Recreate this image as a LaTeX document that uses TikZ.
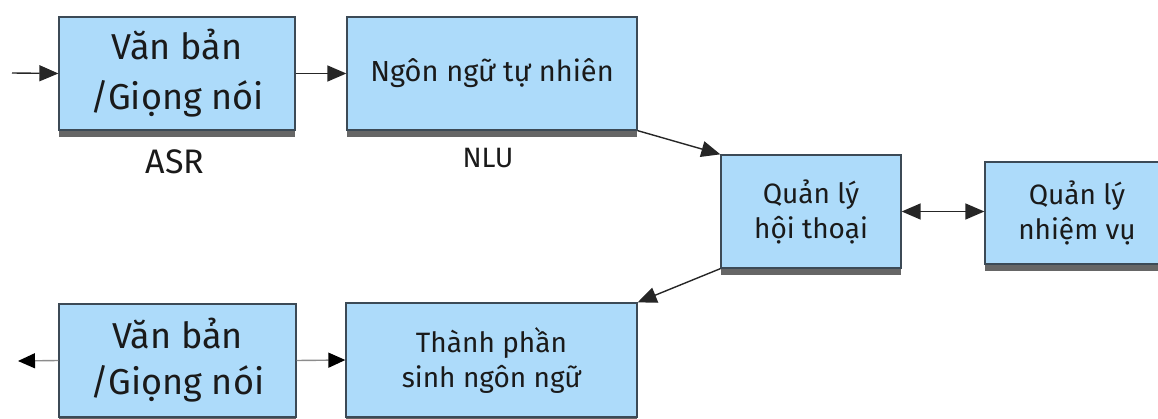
\documentclass[tikz,border=0pt]{standalone}
\usepackage{fontspec}
\setmainfont{Fira Sans}
\usetikzlibrary{arrows.meta,shadows}
\definecolor{boxfill}{HTML}{ADDBFA}
\definecolor{boxline}{HTML}{3C4A56}
\definecolor{txt}{HTML}{1A1A1A}
\tikzset{
  blk/.style={draw=boxline, line width=1.3pt, fill=boxfill, align=center,
    text=txt, inner sep=0pt,
    drop shadow={shadow xshift=0pt, shadow yshift=-7pt, fill=black!75, opacity=0.8}},
  bigtxt/.style={font=\fontsize{36}{50}\selectfont},
  midtxt/.style={font=\fontsize{28}{35}\selectfont},
  lbl/.style={text=txt, inner sep=0pt},
  conn/.style={line width=1.4pt, draw=black!85, -{Triangle[length=19pt,width=16pt]}},
  dconn/.style={line width=1.4pt, draw=black!85, {Triangle[length=19pt,width=16pt]}-{Triangle[length=19pt,width=16pt]}},
  lconn/.style={line width=1.4pt, draw=black!45, -{Triangle[length=17pt,width=15pt,fill=black,color=black]}},
}
\begin{document}
\begin{tikzpicture}[x=1pt,y=-1pt]
\useasboundingbox (0,0) rectangle (1158,419);
\node[blk,bigtxt,minimum width=236pt,minimum height=113pt] (b1) at (177,73.5) {Văn bản\\/Giọng nói};
\node[blk,font=\fontsize{29}{35}\selectfont,minimum width=290pt,minimum height=113pt] (b2) at (492,73.5) {Ngôn ngữ tự nhiên};
\node[blk,midtxt,minimum width=180pt,minimum height=113pt] (b3) at (811,211.5) {Quản lý\\hội thoại};
\node[blk,midtxt,minimum width=184pt,minimum height=102pt] (b4) at (1077,213) {Quản lý\\nhiệm vụ};
\node[blk,font=\fontsize{36}{46}\selectfont,minimum width=237pt,minimum height=113pt] (b5) at (177.5,360.5) {Văn bản\\/Giọng nói};
\node[blk,midtxt,minimum width=291pt,minimum height=114pt] (b6) at (491.5,360) {Thành phần\\sinh ngôn ngữ};
\node[lbl,font=\fontsize{34}{40}\selectfont] (asr) at (175,162) {ASR};
\node[lbl,font=\fontsize{28}{32}\selectfont] (nlu) at (488,158) {NLU};
\coordinate (in) at (12,73);
\coordinate (out) at (18,361);
\draw[conn] (in) -- (b1.west);
\draw[conn] (b1.east) -- (b2.west);
\draw[conn] (b2.south east) -- (b3.north west);
\draw[dconn] (b3.east) -- (b3.east -| b4.west);
\draw[conn] (b3.south west) -- (b6.north east);
\draw[lconn] (b5.west) -- (out);
\draw[lconn] (b5.east) -- (b6.west);
\end{tikzpicture}
\end{document}
